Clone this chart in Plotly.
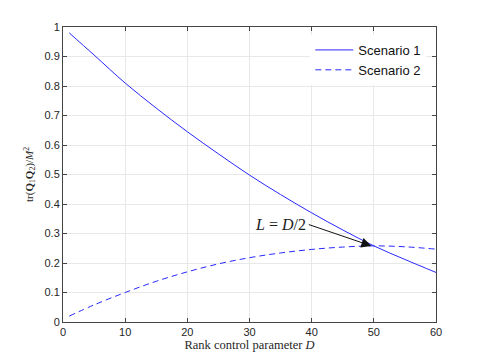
import plotly.graph_objects as go

D = [1, 5, 10, 15, 20, 25, 30, 35, 40, 45, 50, 55, 60]
scenario1 = [0.98, 0.905, 0.81, 0.725, 0.645, 0.57, 0.498, 0.432, 0.37, 0.312, 0.258, 0.212, 0.168]
scenario2 = [0.02, 0.058, 0.10, 0.138, 0.17, 0.197, 0.218, 0.234, 0.246, 0.254, 0.258, 0.255, 0.247]
x_ticks = [0, 10, 20, 30, 40, 50, 60]
y_ticks = [0, 0.1, 0.2, 0.3, 0.4, 0.5, 0.6, 0.7, 0.8, 0.9, 1]
y_tick_labels = ["0", "0.1", "0.2", "0.3", "0.4", "0.5", "0.6", "0.7", "0.8", "0.9", "1"]
arrow_tip = (49.6, 0.258)
arrow_tail = (39.3, 0.332)
label_text = "<i>L</i> = <i>D</i>/2"

blue = "rgb(40,40,255)"
fig = go.Figure()
fig.add_trace(go.Scatter(x=D, y=scenario1, mode="lines", name="Scenario 1",
                         line=dict(color=blue, width=1, shape="spline")))
fig.add_trace(go.Scatter(x=D, y=scenario2, mode="lines", name="Scenario 2",
                         line=dict(color=blue, width=1, dash="6px,4px", shape="spline")))

fig.add_annotation(x=arrow_tip[0], y=arrow_tip[1], ax=arrow_tail[0], ay=arrow_tail[1],
                   xref="x", yref="y", axref="x", ayref="y", text="",
                   showarrow=True, arrowhead=2, arrowsize=2, arrowwidth=1,
                   arrowcolor="#111111", standoff=0)
fig.add_annotation(x=arrow_tail[0], y=arrow_tail[1], xref="x", yref="y",
                   text=label_text, showarrow=False, xanchor="right", yanchor="middle",
                   xshift=1, font=dict(family="Liberation Serif", size=16, color="#222222"))

axis_common = dict(showgrid=True, gridcolor="#e8e8e8", gridwidth=1,
                   showline=True, linecolor="#444444", linewidth=1, mirror="ticks",
                   ticks="inside", ticklen=4, tickcolor="#444444", zeroline=False,
                   tickfont=dict(family="Liberation Sans", size=11, color="#262626"))

fig.update_xaxes(range=[0, 60], tickvals=x_ticks,
                 title=dict(text="Rank control parameter <i>D</i>",
                            font=dict(family="Liberation Serif", size=12.5, color="#262626"),
                            standoff=3),
                 **axis_common)
fig.update_yaxes(range=[0, 1], tickvals=y_ticks, ticktext=y_tick_labels,
                 title=dict(text="tr(<b>Q</b><sub>1</sub><b>Q</b><sub>2</sub>)/<i>M</i><sup>2</sup>",
                            font=dict(family="Liberation Serif", size=11, color="#262626"),
                            standoff=8),
                 **axis_common)

fig.update_layout(width=482, height=362, margin=dict(l=55, r=54, t=19, b=48),
                  plot_bgcolor="white", paper_bgcolor="white",
                  legend=dict(x=0.974, y=0.973, xanchor="right", yanchor="top",
                              bgcolor="rgba(255,255,255,1)", borderwidth=0,
                              font=dict(family="Liberation Sans", size=13, color="#111111"),
                              tracegroupgap=0, itemwidth=38))

fig.write_html("out.html")
